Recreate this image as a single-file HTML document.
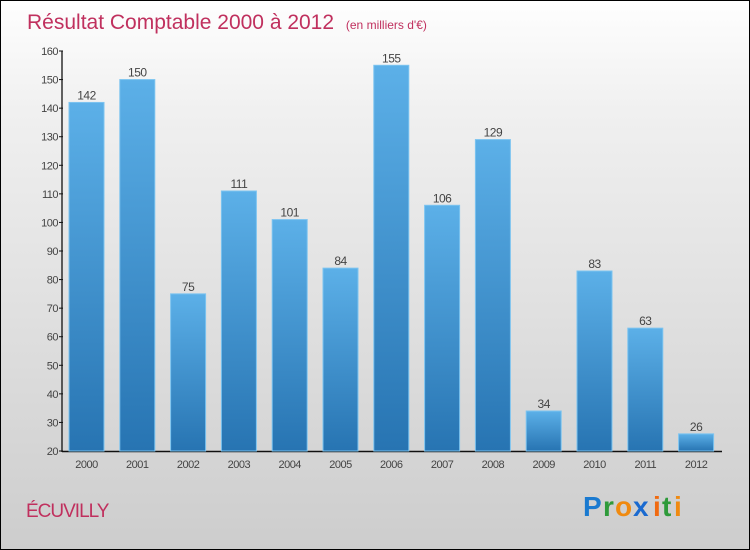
<!DOCTYPE html>
<html><head><meta charset="utf-8"><style>
html,body{margin:0;padding:0}
body{width:750px;height:550px;overflow:hidden;font-family:"Liberation Sans",sans-serif}
#frame{position:absolute;left:0;top:0;width:748px;height:548px;border:1px solid #000;background:linear-gradient(#fefefe,#f0f0f0 20%,#cdcdcd)}
</style></head><body>
<div id="frame">
<svg width="748" height="548" style="position:absolute;left:0;top:0">
<defs><linearGradient id="bg" x1="0" y1="0" x2="0" y2="1"><stop offset="0" stop-color="#5cb0e8"/><stop offset="1" stop-color="#2774b2"/></linearGradient></defs>
<text x="26" y="28" font-size="21" fill="#c0305e">Résultat Comptable 2000 à 2012 <tspan font-size="12" dx="6">(en milliers d'€)</tspan></text>
<g id="axes"></g><g id="bars"></g>
<text x="25" y="516" font-size="19" fill="#c0305e" letter-spacing="-1">ÉCUVILLY</text>
<g font-size="28" font-family="Liberation Sans" font-weight="bold">
<text x="582" y="515" fill="#1a7ad0">P</text><text x="602" y="515" fill="#2e9a3a">r</text><text x="614" y="515" fill="#f08a10">o</text><text x="632" y="515" fill="#1a6ad0">x</text><text x="652" y="515" fill="#f06a10">i</text><text x="661" y="515" fill="#2e9a3a">t</text><text x="673" y="515" fill="#f08a10">i</text></g>
</svg></div>
<script>
const years=["2000","2001","2002","2003","2004","2005","2006","2007","2008","2009","2010","2011","2012"];
const values=[142,150,75,111,101,84,155,106,129,34,83,63,26];
const ticks=[20,30,40,50,60,70,80,90,100,110,120,130,140,150,160];
const NS="http://www.w3.org/2000/svg";
const y=v=>450-(v-20)*(400/140);
const x=i=>85.5+i*50.8;
function mk(t,a,p){const e=document.createElementNS(NS,t);for(const k in a)e.setAttribute(k,a[k]);p.appendChild(e);return e;}
const ax=document.getElementById('axes'),bg=document.getElementById('bars');
let l=mk('line',{x1:61,y1:50,x2:61,y2:451,stroke:'#111','stroke-width':1.3},ax);


l=mk('line',{x1:61,y1:450.5,x2:721,y2:450.5,stroke:'#111','stroke-width':1.5},ax);


ticks.forEach(t=>{mk('line',{x1:58,x2:62,y1:y(t),y2:y(t),stroke:'#111'},ax);
const tx=mk('text',{x:57,y:y(t)+4,'font-size':11,'text-anchor':'end',fill:'#444','letter-spacing':'-0.5'},ax);tx.textContent=t;

});
years.forEach((yr,i)=>{const v=values[i];
const r=mk('rect',{x:x(i)-17.5,y:y(v),width:35,height:450-y(v),fill:'url(#bg)',stroke:'#7cc4f0','stroke-width':1},bg);


const vl=mk('text',{x:x(i),y:y(v)-3,'font-size':12,'text-anchor':'middle',fill:'#444','letter-spacing':'-0.5'},bg);vl.textContent=v;


const xl=mk('text',{x:x(i),y:467,'font-size':11,'text-anchor':'middle',fill:'#444','letter-spacing':'-0.5'},bg);xl.textContent=yr;

});
</script>
</body></html>
